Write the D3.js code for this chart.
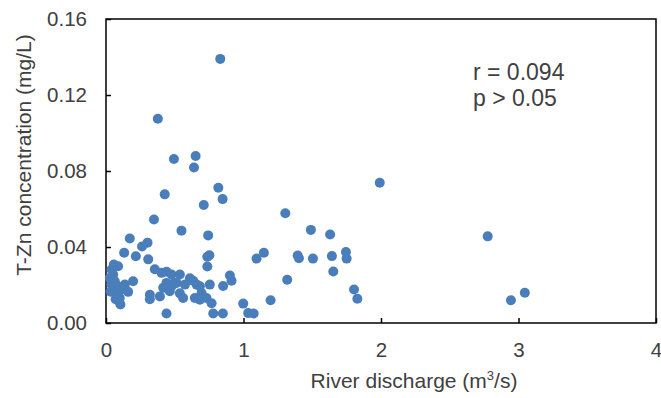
<!DOCTYPE html>
<html><head><meta charset="utf-8">
<script src="https://cdn.jsdelivr.net/npm/d3@7"></script>
<style>body{margin:0;background:#fff}svg{display:block}text{font-family:"Liberation Sans",Arial,sans-serif;fill:#404040}</style>
</head><body><div id="chart"></div>
<script>
const discharge = [0.831,0.377,0.494,0.652,0.640,1.991,0.817,0.427,0.848,0.711,1.304,0.349,0.549,1.490,1.630,0.743,2.776,0.173,0.302,0.262,0.132,1.148,1.745,1.750,1.394,1.403,1.505,1.643,1.095,0.752,0.737,0.217,0.307,0.737,1.653,1.318,1.197,1.804,1.828,2.945,3.046,0.998,1.034,1.074,0.780,0.850,0.440,0.901,0.913,0.852,0.755,0.683,0.659,0.634,0.610,0.537,0.574,0.500,0.513,0.477,0.440,0.404,0.355,0.440,0.477,0.416,0.464,0.537,0.561,0.646,0.683,0.731,0.768,0.695,0.392,0.319,0.319,0.197,0.161,0.057,0.088,0.040,0.052,0.028,0.064,0.040,0.088,0.052,0.113,0.076,0.100,0.105,0.137,0.035,0.070,0.095];
const znConc = [0.139,0.1075,0.0863,0.0879,0.0818,0.0738,0.0712,0.0677,0.0652,0.0621,0.0578,0.0545,0.0486,0.0490,0.0466,0.0461,0.0456,0.0445,0.0423,0.0403,0.0370,0.0370,0.0374,0.0339,0.0355,0.0341,0.0339,0.0352,0.0339,0.0357,0.0349,0.0351,0.0335,0.0297,0.0271,0.0228,0.0120,0.0176,0.0128,0.0120,0.0159,0.0102,0.0052,0.0050,0.0050,0.0050,0.0050,0.0250,0.0222,0.0195,0.0202,0.0193,0.0202,0.0222,0.0235,0.0255,0.0202,0.0211,0.0211,0.0255,0.0270,0.0264,0.0283,0.0211,0.0193,0.0185,0.0167,0.0156,0.0132,0.0132,0.0123,0.0132,0.0104,0.0158,0.0140,0.0149,0.0125,0.0220,0.0164,0.0308,0.0299,0.0281,0.0255,0.0237,0.0220,0.0202,0.0193,0.0176,0.0176,0.0149,0.0132,0.0097,0.0202,0.0165,0.0125,0.0115];
const xTicks = [0,1,2,3,4];
const yTicks = [0,0.04,0.08,0.12,0.16];
const xTitle = "River discharge (m";
const yTitle = "T-Zn concentration (mg/L)";
const annot = ["r = 0.094","p > 0.05"];

const W=661,H=398, m={l:106,r:5,t:19,b:75};
const svg=d3.select("#chart").append("svg").attr("width",W).attr("height",H);
const x=d3.scaleLinear().domain([0,4]).range([m.l,W-m.r]);
const y=d3.scaleLinear().domain([0,0.16]).range([H-m.b,m.t]);

const gx=svg.append("g").attr("transform",`translate(0,${H-m.b})`)
  .call(d3.axisBottom(x).tickValues(xTicks).tickFormat(d3.format("d")).tickSizeInner(-5).tickSizeOuter(0).tickPadding(19.5));
const gy=svg.append("g").attr("transform",`translate(${m.l},0)`)
  .call(d3.axisLeft(y).tickValues(yTicks).tickFormat(d3.format(".2f")).tickSizeInner(-5).tickSizeOuter(0).tickPadding(19));
[gx,gy].forEach(g=>{g.select(".domain").remove();g.selectAll("line").attr("stroke","#000").attr("stroke-width",1.5);
  g.selectAll("text").attr("font-size",20.5).attr("fill","#404040");});

svg.append("rect").attr("x",x(0)).attr("y",y(0.16)).attr("width",x(4)-x(0)).attr("height",y(0)-y(0.16))
  .attr("fill","none").attr("stroke","#000").attr("stroke-width",1.5);

svg.append("g").selectAll("circle").data(discharge.map((d,i)=>[d,znConc[i]])).join("circle")
  .attr("cx",d=>x(d[0])).attr("cy",d=>y(d[1])).attr("r",5).attr("fill","#4a7ebb");

const xt=svg.append("text").attr("x",414).attr("y",388).attr("text-anchor","middle").attr("font-size",21);
xt.append("tspan").text(xTitle);
xt.append("tspan").attr("font-size",13).attr("dy",-8).text("3");
xt.append("tspan").attr("dy",8).text("/s)");

svg.append("text").attr("transform",`translate(31,155) rotate(-90)`).attr("text-anchor","middle").attr("font-size",21).text(yTitle);

svg.append("g").selectAll("text").data(annot).join("text")
  .attr("x",473).attr("y",(d,i)=>80+i*26).attr("font-size",23).attr("fill","#000").text(d=>d);
</script></body></html>
